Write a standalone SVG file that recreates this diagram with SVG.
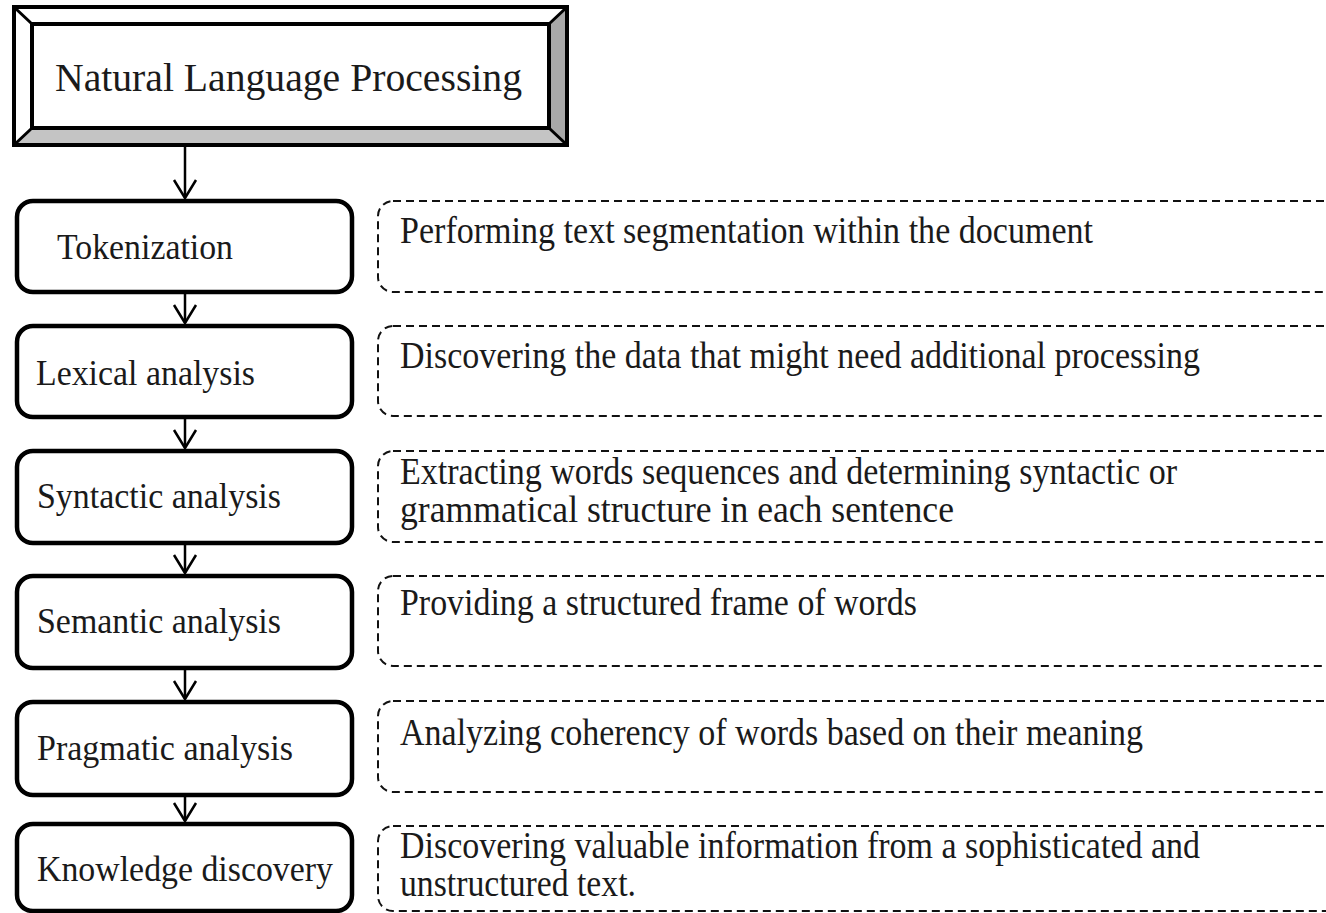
<svg xmlns="http://www.w3.org/2000/svg" width="1326" height="913" viewBox="0 0 1326 913">
  <style>
    .step { fill: #fff; stroke: #000; stroke-width: 4.5; }
    .note { fill: #fff; stroke: #111; stroke-width: 2; stroke-dasharray: 8 5; }
    .lbl { font-family: "Liberation Serif", "Times New Roman", serif; font-size: 35px; fill: #1a1a1a; }
    .desc { font-family: "Liberation Serif", "Times New Roman", serif; font-size: 37px; fill: #1a1a1a; }
    .title { font-family: "Liberation Serif", "Times New Roman", serif; font-size: 41px; fill: #1a1a1a; }
    .conn { stroke: #000; stroke-width: 2.5; fill: none; }
  </style>
  <defs>
    <marker id="vhead" markerUnits="userSpaceOnUse" markerWidth="30" markerHeight="30" refX="0" refY="0" viewBox="-20 -15 24 30" orient="auto">
      <path d="M -18 -11 L 0 0 L -18 11" fill="none" stroke="#000" stroke-width="2.5"/>
    </marker>
  </defs>
  <rect width="1326" height="913" fill="#fff"/>

  <!-- bevelled title frame -->
  <g id="node-nlp">
    <polygon points="14,7 567,7 549,24 32,24" fill="#fff"/>
    <polygon points="14,7 32,24 32,128 14,145" fill="#fff"/>
    <polygon points="567,7 567,145 549,128 549,24" fill="#a8a8a8"/>
    <polygon points="14,145 32,128 549,128 567,145" fill="#c4c4c4"/>
    <rect x="14" y="7" width="553" height="138" fill="none" stroke="#000" stroke-width="4"/>
    <rect x="32" y="24" width="517" height="104" fill="none" stroke="#000" stroke-width="4"/>
    <g stroke="#000" stroke-width="3">
      <line x1="14" y1="7" x2="32" y2="24"/>
      <line x1="567" y1="7" x2="549" y2="24"/>
      <line x1="14" y1="145" x2="32" y2="128"/>
      <line x1="567" y1="145" x2="549" y2="128"/>
    </g>
    <text class="title" x="55" y="91" textLength="467" lengthAdjust="spacingAndGlyphs">Natural Language Processing</text>
  </g>

  <!-- processing stages -->
  <g id="node-tokenization">
    <rect class="step" x="17" y="201" width="335" height="91" rx="16"/>
    <text class="lbl" x="57" y="259" textLength="176" lengthAdjust="spacingAndGlyphs">Tokenization</text>
  </g>
  <g id="node-lexical">
    <rect class="step" x="17" y="326" width="335" height="91" rx="16"/>
    <text class="lbl" x="36" y="385" textLength="219" lengthAdjust="spacingAndGlyphs">Lexical analysis</text>
  </g>
  <g id="node-syntactic">
    <rect class="step" x="17" y="451" width="335" height="92" rx="16"/>
    <text class="lbl" x="37" y="508" textLength="244" lengthAdjust="spacingAndGlyphs">Syntactic analysis</text>
  </g>
  <g id="node-semantic">
    <rect class="step" x="17" y="576" width="335" height="92" rx="16"/>
    <text class="lbl" x="37" y="633" textLength="244" lengthAdjust="spacingAndGlyphs">Semantic analysis</text>
  </g>
  <g id="node-pragmatic">
    <rect class="step" x="17" y="702" width="335" height="93" rx="16"/>
    <text class="lbl" x="37" y="760" textLength="256" lengthAdjust="spacingAndGlyphs">Pragmatic analysis</text>
  </g>
  <g id="node-knowledge">
    <rect class="step" x="17" y="824" width="335" height="87" rx="16"/>
    <text class="lbl" x="37" y="881" textLength="296" lengthAdjust="spacingAndGlyphs">Knowledge discovery</text>
  </g>

  <!-- stage descriptions -->
  <g id="note-tokenization">
    <rect class="note" x="378" y="201" width="1000" height="91" rx="15"/>
    <text class="desc" x="400" y="243" textLength="693" lengthAdjust="spacingAndGlyphs">Performing text segmentation within the document</text>
  </g>
  <g id="note-lexical">
    <rect class="note" x="378" y="326" width="1000" height="90" rx="15"/>
    <text class="desc" x="400" y="368" textLength="800" lengthAdjust="spacingAndGlyphs">Discovering the data that might need additional processing</text>
  </g>
  <g id="note-syntactic">
    <rect class="note" x="378" y="451" width="1000" height="91" rx="15"/>
    <text class="desc" x="400" y="484" textLength="777" lengthAdjust="spacingAndGlyphs">Extracting words sequences and determining syntactic or</text>
    <text class="desc" x="400" y="522" textLength="554" lengthAdjust="spacingAndGlyphs">grammatical structure in each sentence</text>
  </g>
  <g id="note-semantic">
    <rect class="note" x="378" y="576" width="1000" height="90" rx="15"/>
    <text class="desc" x="400" y="615" textLength="517" lengthAdjust="spacingAndGlyphs">Providing a structured frame of words</text>
  </g>
  <g id="note-pragmatic">
    <rect class="note" x="378" y="701" width="1000" height="91" rx="15"/>
    <text class="desc" x="400" y="745" textLength="743" lengthAdjust="spacingAndGlyphs">Analyzing coherency of words based on their meaning</text>
  </g>
  <g id="note-knowledge">
    <rect class="note" x="378" y="826" width="1000" height="85" rx="15"/>
    <text class="desc" x="400" y="858" textLength="800" lengthAdjust="spacingAndGlyphs">Discovering valuable information from a sophisticated and</text>
    <text class="desc" x="400" y="896" textLength="236" lengthAdjust="spacingAndGlyphs">unstructured text.</text>
  </g>

  <!-- flow arrows -->
  <g id="connectors">
    <line class="conn" x1="185" y1="146" x2="185" y2="198" marker-end="url(#vhead)"/>
    <line class="conn" x1="185" y1="294" x2="185" y2="323" marker-end="url(#vhead)"/>
    <line class="conn" x1="185" y1="419" x2="185" y2="448" marker-end="url(#vhead)"/>
    <line class="conn" x1="185" y1="545" x2="185" y2="573" marker-end="url(#vhead)"/>
    <line class="conn" x1="185" y1="670" x2="185" y2="699" marker-end="url(#vhead)"/>
    <line class="conn" x1="185" y1="797" x2="185" y2="821" marker-end="url(#vhead)"/>
  </g>
</svg>
